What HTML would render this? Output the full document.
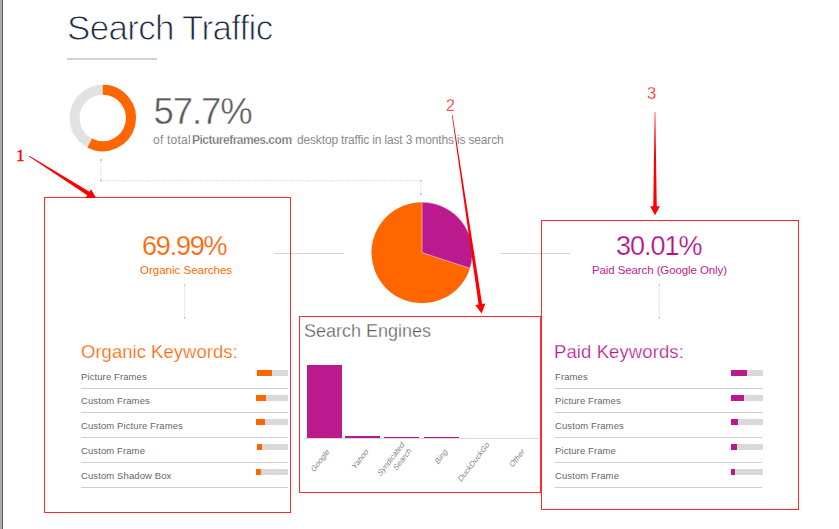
<!DOCTYPE html>
<html><head><meta charset="utf-8">
<style>
html,body{margin:0;padding:0;background:#fff;}
body{width:839px;height:529px;position:relative;overflow:hidden;font-family:"Liberation Sans",sans-serif;}
.a{position:absolute;white-space:nowrap;line-height:1;}
#lb1{position:absolute;left:0;top:0;width:2px;height:529px;background:#ababab;}
#lb2{position:absolute;left:2px;top:0;width:1px;height:529px;background:#5a5a5a;}
.box{position:absolute;border:1px solid #ff2b2b;box-sizing:border-box;}
.kw{position:absolute;font-size:9.5px;letter-spacing:0.1px;color:#666;}
.sep{position:absolute;height:1px;background:#cfcfcf;}
.bar{position:absolute;height:6px;background:#d9d9d9;}
.bar i{position:absolute;left:0;top:0;height:6px;display:block;}
</style></head><body>
<div id="lb1"></div><div id="lb2"></div>

<div class="a" id="title" style="left:67px;top:10px;font-size:35px;letter-spacing:-0.7px;color:#1c2b40;-webkit-text-stroke:0.9px #fff;">Search Traffic</div>
<div style="position:absolute;left:67px;top:58px;width:90px;height:2px;background:#d2d2d2;"></div>

<svg style="position:absolute;left:0;top:0" width="839" height="529">
  <!-- donut -->
  <circle cx="102.8" cy="118" r="28.2" fill="none" stroke="#e2e2e2" stroke-width="10"/>
  <path id="donutArc" d="M102.8,89.8 A28.2,28.2 0 1 1 89.69,142.97" fill="none" stroke="#ff6600" stroke-width="10"/>
  <!-- pie -->
  <circle cx="422" cy="252.7" r="50.5" fill="#ff6600"/>
  <path id="pieSlice" d="M422,252.7 L422,202.2 A50.5,50.5 0 0 1 470.02,268.34 Z" fill="#bb1a8f" stroke="#fff" stroke-width="0.5" stroke-linejoin="round"/>
  <!-- dotted connectors -->
  <g stroke="#d9d9d9" stroke-width="1.3" stroke-dasharray="1,1.3">
    <line x1="100.8" y1="159" x2="100.8" y2="181"/>
    <line x1="101" y1="180.7" x2="421" y2="180.7"/>
    <line x1="420.8" y1="180" x2="420.8" y2="195"/>
    <line x1="184.6" y1="284" x2="184.6" y2="319"/>
    <line x1="659.3" y1="284" x2="659.3" y2="319"/>
  </g>
  <g fill="#c4c4c4">
    <rect x="100" y="159" width="1.6" height="2"/><rect x="100" y="179.5" width="1.6" height="2"/>
    <rect x="420" y="180" width="1.6" height="1.6"/><rect x="420" y="193" width="1.6" height="2"/>
    <rect x="184" y="284" width="1.3" height="1.6"/><rect x="184" y="317" width="1.3" height="1.6"/>
    <rect x="658.7" y="284" width="1.3" height="1.6"/><rect x="658.7" y="317" width="1.3" height="1.6"/>
  </g>
  <g stroke="#d5d5d5" stroke-width="1">
    <line x1="274" y1="253.5" x2="344" y2="253.5"/>
    <line x1="500" y1="253.5" x2="570" y2="253.5"/>
  </g>
</svg>

<div class="a" id="pct" style="left:153.5px;top:93.5px;font-size:36.5px;letter-spacing:-1.1px;color:#5a5a5a;-webkit-text-stroke:0.45px #fff;">57.7%</div>
<div class="a" id="sub1" style="left:153px;top:134px;font-size:12px;letter-spacing:0.22px;color:#8a8a8a;">of total</div>
<div class="a" id="sub2" style="left:192px;top:134px;font-size:12px;letter-spacing:-0.5px;font-weight:bold;color:#707070;-webkit-text-stroke:0.25px #fff;">Pictureframes.com</div>
<div class="a" id="sub3" style="left:297px;top:134px;font-size:12px;letter-spacing:-0.16px;color:#8a8a8a;">desktop traffic in last 3 months is search</div>

<!-- boxes -->
<div class="box" style="left:44px;top:197px;width:247px;height:316px;"></div>
<div class="box" style="left:299px;top:316px;width:242px;height:177px;"></div>
<div class="box" style="left:541px;top:220px;width:258px;height:290px;"></div>

<div class="a" id="org" style="left:142px;top:233px;font-size:27px;letter-spacing:-1.2px;color:#ff6000;-webkit-text-stroke:0.25px #fff;">69.99%</div>
<div class="a" id="orgs" style="left:140px;top:265px;font-size:11.5px;color:#ff6a00;">Organic Searches</div>
<div class="a" id="okw" style="left:81px;top:343px;font-size:18.5px;letter-spacing:0.02px;color:#ff6400;-webkit-text-stroke:0.25px #fff;">Organic Keywords:</div>

<div class="a" id="paid" style="left:616px;top:233px;font-size:27px;letter-spacing:-1.0px;color:#b3108a;-webkit-text-stroke:0.25px #fff;">30.01%</div>
<div class="a" id="paids" style="left:592px;top:265px;font-size:11.5px;letter-spacing:-0.1px;color:#bc1c8f;">Paid Search (Google Only)</div>
<div class="a" id="pkw" style="left:554px;top:343px;font-size:18.5px;letter-spacing:0.1px;color:#b8168c;-webkit-text-stroke:0.25px #fff;">Paid Keywords:</div>

<div class="a" id="se" style="left:304px;top:322px;font-size:18px;color:#5c5c5c;-webkit-text-stroke:0.3px #fff;">Search Engines</div>

<div class="kw a" style="left:81px;top:371.5px;">Picture Frames</div>
<div class="sep" style="left:81px;top:388px;width:207px;"></div>
<div class="bar" style="left:257px;top:370px;width:31px;"><i style="width:15px;background:#ff6600"></i></div>
<div class="kw a" style="left:81px;top:395.5px;">Custom Frames</div>
<div class="sep" style="left:81px;top:412px;width:207px;"></div>
<div class="bar" style="left:256px;top:395px;width:32px;"><i style="width:10px;background:#ff6600"></i></div>
<div class="kw a" style="left:81px;top:420.5px;">Custom Picture Frames</div>
<div class="sep" style="left:81px;top:437px;width:207px;"></div>
<div class="bar" style="left:256px;top:419px;width:32px;"><i style="width:9px;background:#ff6600"></i></div>
<div class="kw a" style="left:81px;top:445.5px;">Custom Frame</div>
<div class="sep" style="left:81px;top:462px;width:207px;"></div>
<div class="bar" style="left:257px;top:444px;width:31px;"><i style="width:5px;background:#ff6600"></i></div>
<div class="kw a" style="left:81px;top:470.5px;">Custom Shadow Box</div>
<div class="sep" style="left:81px;top:487px;width:207px;"></div>
<div class="bar" style="left:256px;top:469px;width:32px;"><i style="width:5px;background:#ff6600"></i></div>
<div class="kw a" style="left:555px;top:371.5px;">Frames</div>
<div class="sep" style="left:555px;top:388px;width:207px;"></div>
<div class="bar" style="left:731px;top:370px;width:32px;"><i style="width:16px;background:#bb1a8f"></i></div>
<div class="kw a" style="left:555px;top:395.5px;">Picture Frames</div>
<div class="sep" style="left:555px;top:412px;width:207px;"></div>
<div class="bar" style="left:731px;top:395px;width:32px;"><i style="width:13px;background:#bb1a8f"></i></div>
<div class="kw a" style="left:555px;top:420.5px;">Custom Frames</div>
<div class="sep" style="left:555px;top:437px;width:207px;"></div>
<div class="bar" style="left:731px;top:419px;width:32px;"><i style="width:7px;background:#bb1a8f"></i></div>
<div class="kw a" style="left:555px;top:445.5px;">Picture Frame</div>
<div class="sep" style="left:555px;top:462px;width:207px;"></div>
<div class="bar" style="left:731px;top:444px;width:32px;"><i style="width:6px;background:#bb1a8f"></i></div>
<div class="kw a" style="left:555px;top:470.5px;">Custom Frame</div>
<div class="sep" style="left:555px;top:487px;width:207px;"></div>
<div class="bar" style="left:731px;top:469px;width:32px;"><i style="width:4px;background:#bb1a8f"></i></div>

<svg style="position:absolute;left:0;top:0" width="839" height="529">
  <defs><clipPath id="c1"><rect x="0" y="0" width="839" height="198"/></clipPath></defs>
  <!-- chart -->
  <line x1="304" y1="438.5" x2="539" y2="438.5" stroke="#d8d8d8" stroke-width="1"/>
  <rect x="307" y="365" width="35" height="73" fill="#bb1a8f"/>
  <rect x="345" y="436" width="35" height="2" fill="#bb1a8f"/>
  <rect x="384" y="437" width="35" height="1" fill="#bb1a8f"/>
  <rect x="424" y="437" width="35" height="1" fill="#bb1a8f"/>
  <g font-family="Liberation Sans" font-size="9" fill="#858585" text-anchor="end">
    <text transform="translate(329.8,452.2) scale(0.77,1) rotate(-45)">Google</text>
    <text transform="translate(368.8,452.2) scale(0.77,1) rotate(-45)">Yahoo</text>
    <text transform="translate(404.8,445.2) scale(0.77,1) rotate(-45)">Syndicated</text>
    <text transform="translate(411.8,451.2) scale(0.77,1) rotate(-45)">Search</text>
    <text transform="translate(447.8,452.2) scale(0.77,1) rotate(-45)">Bing</text>
    <text transform="translate(489.8,445.2) scale(0.77,1) rotate(-45)">DuckDuckGo</text>
    <text transform="translate(524.8,452.2) scale(0.77,1) rotate(-45)">Other</text>
  </g>
  <!-- annotations -->
  <polygon points="28.99,156.54 87.26,195.26 85.71,197.71 96.50,198.60 91.04,189.25 89.50,191.71 29.41,155.86" fill="#ff0000" clip-path="url(#c1)"/>
  <polygon points="451.90,114.94 478.54,304.47 475.27,304.95 481.70,313.50 485.36,303.45 482.10,303.94 452.50,114.86" fill="#ff0000"/>
  <polygon points="654.70,112.00 653.25,206.30 650.10,206.30 655.00,215.30 659.90,206.30 656.75,206.30 655.30,112.00" fill="#ff0000"/>
  <text x="16" y="161" font-family="Liberation Serif" font-size="17.5" fill="#ff0000" stroke="#ff0000" stroke-width="0.35">1</text>
  <text x="446" y="111" font-family="Liberation Sans" font-size="16" fill="#ff0000" stroke="#fff" stroke-width="0.35">2</text>
  <text x="647" y="99" font-family="Liberation Sans" font-size="16.5" fill="#ff0000" stroke="#fff" stroke-width="0.35">3</text>
</svg>
</body></html>
